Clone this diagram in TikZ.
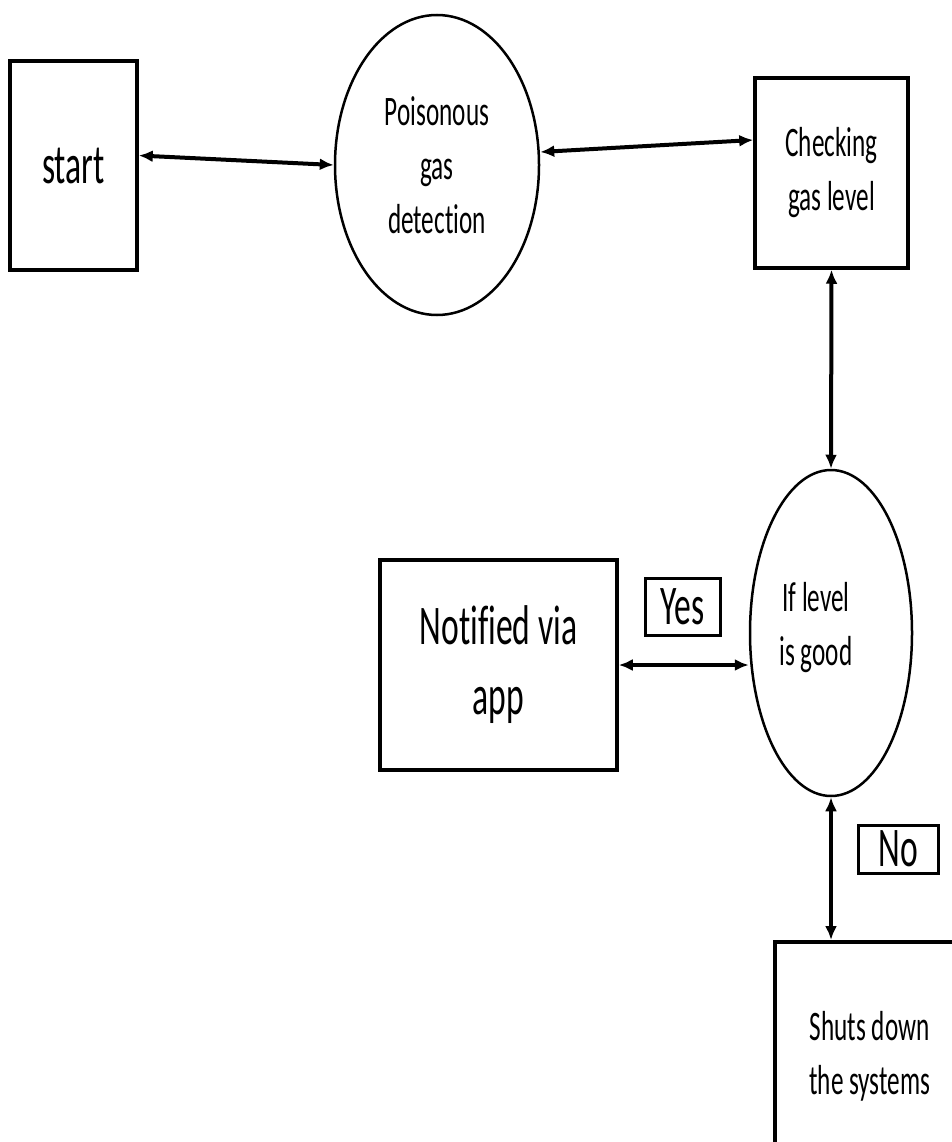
\documentclass[tikz,border=0pt]{standalone}
\usepackage{fontspec}
\setmainfont{Carlito}[FakeStretch=0.6,Ligatures=NoCommon]
\usetikzlibrary{arrows.meta,shapes.geometric}
\begin{document}
\begin{tikzpicture}[x=1pt,y=-1pt,
  box/.style={draw,line width=3.5pt,rectangle,align=center,inner sep=0pt},
  oval/.style={draw,line width=2.5pt,ellipse,align=center,inner sep=0pt},
  lbl/.style={draw,line width=3pt,rectangle,align=center,inner sep=0pt},
  arr/.style={line width=4pt,{Latex[length=14pt,width=12pt]}-{Latex[length=14pt,width=12pt]}},
  big/.style={font=\fontsize{56}{70}\selectfont},
  mid/.style={font=\fontsize{42}{54}\selectfont}]
\useasboundingbox (0,0) rectangle (952,1142);
\clip (0,0) rectangle (952,1142);
\node[box,big,minimum width=127pt,minimum height=209pt] (start) at (73.5,165.5) {start};
\node[oval,mid,minimum width=204pt,minimum height=300pt] (poison) at (437,165) {Poisonous\\gas\\detection};
\node[box,mid,minimum width=153pt,minimum height=190pt] (check) at (831.5,173) {Checking\\gas level};
\node[oval,minimum width=162pt,minimum height=326pt] (ifl) at (831,633) {};
\node[mid,align=center] (ifltext) at (816,628) {If level\\is good};
\node[box,big,minimum width=237pt,minimum height=210pt] (notif) at (498.5,665) {Notified via\\app};
\node[box,mid,minimum width=190pt,minimum height=230pt,anchor=north west] (shuts) at (773,940) {Shuts down\\the systems};
\node[lbl,big,minimum width=75pt,minimum height=57pt] (yes) at (682.5,606.5) {Yes};
\node[lbl,big,minimum width=80pt,minimum height=48pt] (no) at (898,849) {No};
\draw[arr] ([yshift=10pt]start.east) -- (poison.west);
\draw[arr] ([yshift=13pt]poison.east) -- ([yshift=33pt]check.west);
\draw[arr] (check.south) -- (ifl.north);
\draw[arr] (notif.east) -- (notif.east -| ifl.west);
\draw[arr] (ifl.south) -- (ifl.south |- shuts.north);
\end{tikzpicture}
\end{document}
